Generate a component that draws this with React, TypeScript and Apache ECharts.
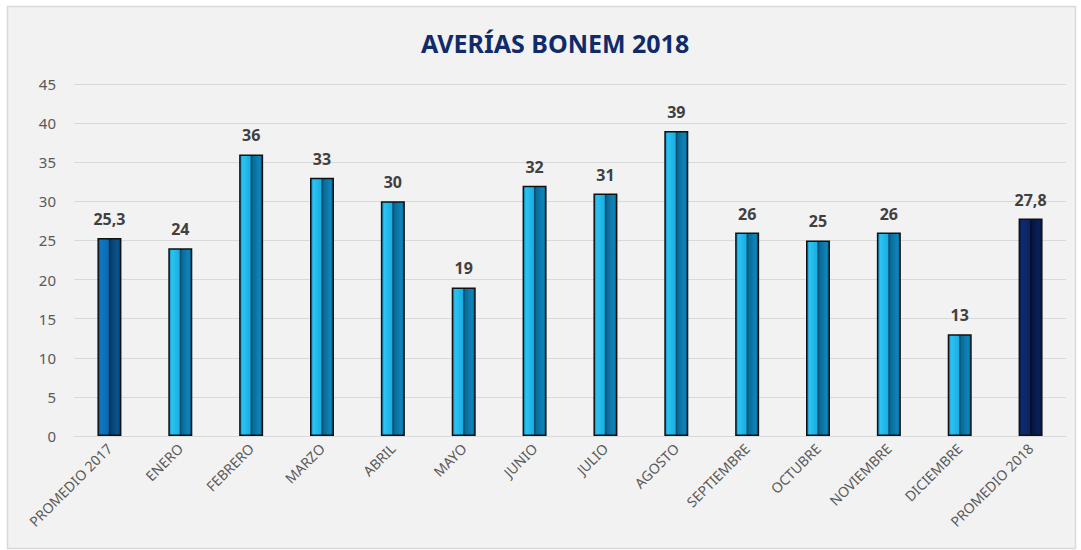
import React, { useEffect, useRef } from "react";
import * as echarts from "echarts";

const categories = [
  "PROMEDIO 2017", "ENERO", "FEBRERO", "MARZO", "ABRIL", "MAYO", "JUNIO",
  "JULIO", "AGOSTO", "SEPTIEMBRE", "OCTUBRE", "NOVIEMBRE", "DICIEMBRE", "PROMEDIO 2018",
];
const values = [25.3, 24, 36, 33, 30, 19, 32, 31, 39, 26, 25, 26, 13, 27.8];
const titleText = "AVERÍAS BONEM 2018";

const grad = (stops: [number, string][]) =>
  new echarts.graphic.LinearGradient(0, 0, 1, 0, stops.map(([offset, color]) => ({ offset, color })));

const monthFill = () =>
  grad([
    [0, "#0b86bb"], [0.12, "#2cc3f2"], [0.45, "#1aaee3"], [0.5, "#0a4866"],
    [0.58, "#0a6a98"], [0.88, "#0c86bb"], [1, "#0a587f"],
  ]);
const prom17Fill = () =>
  grad([
    [0, "#08558f"], [0.12, "#0f78c4"], [0.45, "#0b69b0"], [0.5, "#042a4a"],
    [0.58, "#06416f"], [0.88, "#085591"], [1, "#04375f"],
  ]);
const prom18Fill = () =>
  grad([
    [0, "#071a4a"], [0.12, "#0f2a6e"], [0.45, "#0c2462"], [0.5, "#020c26"],
    [0.58, "#051642"], [0.88, "#0a1f58"], [1, "#041238"],
  ]);

export default function App() {
  const ref = useRef<HTMLDivElement>(null);
  useEffect(() => {
    document.body.style.margin = "0";
    const chart = echarts.init(ref.current!, null, { renderer: "svg" });
    const font = "Noto Sans";
    chart.setOption({
      animation: false,
      backgroundColor: "#ffffff",
      graphic: [
        {
          type: "rect",
          z: -10,
          shape: { x: 7.5, y: 6.5, width: 1068, height: 542 },
          style: { fill: "#f2f2f2", stroke: "#d9d9d9", lineWidth: 1.5 },
        },
      ],
      title: {
        text: titleText,
        left: 416,
        top: 25,
        textStyle: { color: "#102b6a", fontSize: 25, fontWeight: "bold", fontFamily: font },
      },
      grid: { left: 74, right: 15, top: 84, bottom: 114, containLabel: false },
      xAxis: {
        type: "category",
        data: categories,
        axisLine: { show: true, lineStyle: { color: "#d9d9d9", width: 1 } },
        axisTick: { show: false },
        axisLabel: {
          rotate: 45,
          color: "#595959",
          fontSize: 14,
          fontFamily: font,
          margin: 10,
          interval: 0,
        },
      },
      yAxis: {
        type: "value",
        min: 0,
        max: 45,
        interval: 5,
        axisLine: { show: false },
        axisTick: { show: false },
        splitLine: { lineStyle: { color: "#d9d9d9", width: 1 } },
        axisLabel: { color: "#595959", fontSize: 15, fontFamily: font, margin: 18 },
      },
      series: [
        {
          type: "bar",
          barWidth: 24,
          data: values.map((v, i) => ({
            value: v,
            itemStyle: {
              color: i === 0 ? prom17Fill() : i === values.length - 1 ? prom18Fill() : monthFill(),
              borderColor: "#111111",
              borderWidth: 1.5,
            },
          })),
          label: {
            show: true,
            position: "top",
            distance: 11,
            color: "#404040",
            fontSize: 16,
            fontWeight: "bold",
            fontFamily: font,
            formatter: (p: any) => String(p.value).replace(".", ","),
          },
        },
      ],
    });
    return () => chart.dispose();
  }, []);
  return <div ref={ref} style={{ width: 1081, height: 550 }} />;
}
